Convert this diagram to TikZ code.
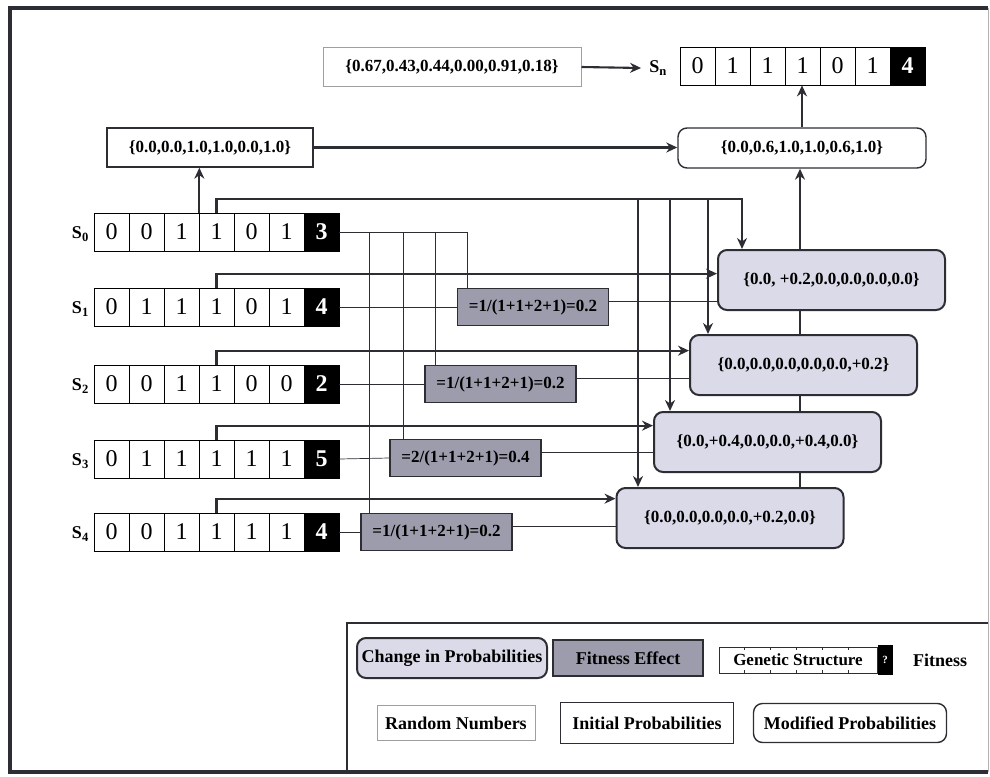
\documentclass[tikz,border=0pt]{standalone}
\usepackage{fontspec}
\setmainfont{Liberation Serif}
\usetikzlibrary{arrows.meta,calc}
\definecolor{chgfill}{RGB}{218,218,232}
\definecolor{efffill}{RGB}{156,156,172}
\definecolor{framecol}{RGB}{45,45,52}

\begin{document}
\begin{tikzpicture}[x=1pt,y=-1pt,
    every node/.style={inner sep=0pt},
    cellbox/.style={draw,line width=0.7pt,minimum width=35pt,minimum height=38pt,font=\fontsize{24}{24}\selectfont},
    fitcell/.style={cellbox,fill=black,text=white,font=\fontsize{24}{24}\selectfont\bfseries},
    slabel/.style={font=\fontsize{18}{18}\selectfont\bfseries},
    probtext/.style={font=\fontsize{17}{17}\selectfont\bfseries},
    legtext/.style={font=\fontsize{18}{18}\selectfont\bfseries},
    randbox/.style={draw=gray!75,line width=1pt},
    initbox/.style={draw=framecol,line width=1.4pt},
    modbox/.style={initbox,rounded corners=9pt},
    chgbox/.style={draw=framecol,line width=2pt,fill=chgfill,rounded corners=9pt},
    effbox/.style={draw=framecol,line width=1.2pt,fill=efffill},
    bus/.style={line width=2.1pt,draw=framecol},
    conn/.style={bus,-{Stealth[length=11pt,width=10pt]}},
    wire/.style={line width=0.7pt,draw=framecol}]
  \useasboundingbox (0,0) rectangle (990,776);

  % outer frame
  \draw[framecol,line width=4pt] (988,8) -- (10,8) -- (10,772) -- (988,772);
  \draw[gray!60,line width=1pt] (988,8) -- (988,772);

  % random numbers and new string
  \node[randbox,probtext,minimum width=258pt,minimum height=39pt] (rand) at (452,67) {\{0.67,0.43,0.44,0.00,0.91,0.18\}};
  \node[slabel] (snlab) at (658,68) {S\textsubscript{n}};
  \foreach \b [count=\i] in {0,1,1,1,0,1}
    \node[cellbox] (sn-\i) at (662.5+35*\i,66) {\b};
  \node[fitcell] (sn-f) at (662.5+35*7,66) {4};

  % initial and modified probabilities
  \node[initbox,probtext,minimum width=206pt,minimum height=39pt] (init) at (210,147.5) {\{0.0,0.0,1.0,1.0,0.0,1.0\}};
  \node[modbox,probtext,minimum width=248pt,minimum height=40pt] (modp) at (802,148) {\{0.0,0.6,1.0,1.0,0.6,1.0\}};

  % population strings
  \foreach \r/\y/\bits/\fit in {0/232/{0,0,1,1,0,1}/3,1/307/{0,1,1,1,0,1}/4,2/384/{0,0,1,1,0,0}/2,3/459/{0,1,1,1,1,1}/5,4/532/{0,0,1,1,1,1}/4}{
    \node[slabel,anchor=east] (s\r-lab) at (89,\y+2) {S\textsubscript{\r}};
    \foreach \b [count=\i] in \bits
      \node[cellbox] (s\r-\i) at (76.5+35*\i,\y) {\b};
    \node[fitcell] (s\r-f) at (76.5+35*7,\y) {\fit};
  }

  % change in probabilities
  \node[chgbox,probtext,minimum width=227pt,minimum height=60pt] (c1) at (831.5,280) {\{0.0, +0.2,0.0,0.0,0.0,0.0\}};
  \node[chgbox,probtext,minimum width=227pt,minimum height=60pt] (c2) at (803.5,365) {\{0.0,0.0,0.0,0.0,0.0,+0.2\}};
  \node[chgbox,probtext,minimum width=227pt,minimum height=60pt] (c3) at (767.5,442) {\{0.0,+0.4,0.0,0.0,+0.4,0.0\}};
  \node[chgbox,probtext,minimum width=227pt,minimum height=60pt] (c4) at (730,518) {\{0.0,0.0,0.0,0.0,+0.2,0.0\}};

  % fitness effects
  \node[effbox,probtext,minimum width=151pt,minimum height=37pt] (f1) at (533,307) {=1/(1+1+2+1)=0.2};
  \node[effbox,probtext,minimum width=151pt,minimum height=37pt] (f2) at (500.5,384) {=1/(1+1+2+1)=0.2};
  \node[effbox,probtext,minimum width=151pt,minimum height=37pt] (f3) at (465.5,458) {=2/(1+1+2+1)=0.4};
  \node[effbox,probtext,minimum width=151pt,minimum height=37pt] (f4) at (436.5,532) {=1/(1+1+2+1)=0.2};

  % thick connectors
  \draw[conn] (rand.east) -- ([xshift=-8pt]snlab.west);
  \draw[conn] (s0-3.north east) -- (s0-3.north east |- init.south);
  \draw[conn] (init.east) -- (init.east -| modp.west);
  \draw[conn] (modp.north) -- (modp.north |- sn-4.south);
  \coordinate (bus) at (742,199);
  \draw[conn] (s0-4.north) |- (bus) -- (bus |- c1.north);
  \foreach \x/\c in {708/c2,670/c3,638/c4}
    \draw[conn] (\x,199) -- (\c.north -| \x,0);
  \foreach \i in {1,...,4}
    \draw[conn] (s\i-4.north) -- ++(0,-14) coordinate (t) -- (t -| c\i.west);
  \foreach \a/\b in {c4/c3,c3/c2,c2/c1}
    \draw[bus] (\a.north -| 800,0) -- (\b.south -| 800,0);
  \draw[conn] (c1.north -| 800,0) -- (modp.south -| 800,0);

  % thin wires
  \foreach \i/\d in {1/10,2/11,3/14,4/9}
    \draw[wire] (s0-f.east) -| ($(f\i.north west)+(\d,0)$);
  \foreach \i in {1,...,4}{
    \draw[wire] (s\i-f.east) -- (f\i.west);
    \draw[wire] ([yshift=6pt]f\i.east) coordinate (w) -- (w -| c\i.west);
  }

  % legend
  \draw[framecol,line width=1.2pt] (988,623) -- (347,623) -- (347,772);
  \node[chgbox,legtext,minimum width=190pt,minimum height=40pt] (lg-chg) at (452,658) {Change in Probabilities};
  \node[effbox,legtext,minimum width=150pt,minimum height=36pt] (lg-eff) at (628,658) {Fitness Effect};
  \node[draw=framecol,line width=0.8pt,minimum width=158pt,minimum height=26pt,font=\fontsize{17}{17}\selectfont\bfseries] (lg-gen) at (798,660) {Genetic Structure};
  \foreach \k in {1,...,5}{
    \draw[wire] ($(lg-gen.north west)+(26*\k,0)$) -- ++(0,3);
    \draw[wire] ($(lg-gen.south west)+(26*\k,0)$) -- ++(0,-3);
  }
  \node[fill=black,text=white,anchor=west,minimum width=15pt,minimum height=30pt,font=\fontsize{11}{11}\selectfont\bfseries] (lg-fit) at (lg-gen.east) {?};
  \node[legtext,anchor=west] (lg-fitlab) at ([xshift=20pt]lg-fit.east) {Fitness};
  \node[randbox,legtext,minimum width=158pt,minimum height=35pt] (lg-rand) at (456,723) {Random Numbers};
  \node[initbox,legtext,minimum width=173pt,minimum height=41pt] (lg-init) at (647,723) {Initial Probabilities};
  \node[modbox,legtext,minimum width=193pt,minimum height=39pt] (lg-mod) at (850,723) {Modified Probabilities};
\end{tikzpicture}
\end{document}
